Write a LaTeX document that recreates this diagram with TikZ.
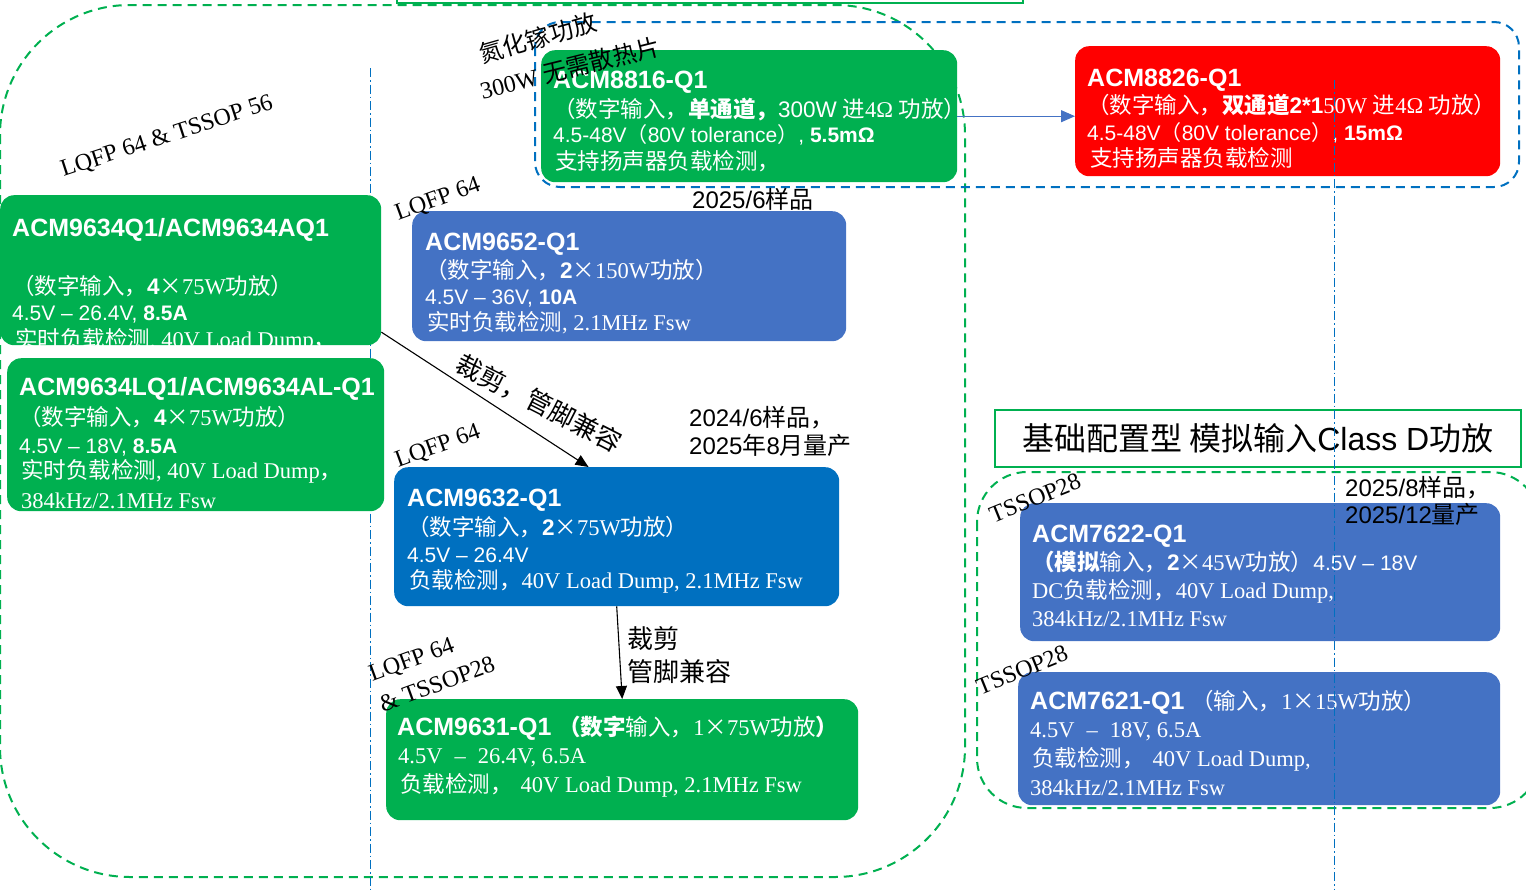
\documentclass[tikz,border=0pt]{standalone}
\usepackage{fontspec}
\setmainfont{Liberation Serif}
\setsansfont{Liberation Sans}
\newfontfamily\cjk{Noto Sans CJK SC}
\usetikzlibrary{arrows.meta}
\definecolor{gr}{HTML}{00B050}
\definecolor{bl}{HTML}{4472C4}
\definecolor{db}{HTML}{0070C0}
\definecolor{rd}{HTML}{FF0000}
\newcommand{\ZH}[1]{{\cjk #1}}
\newcommand{\SF}[1]{{\sffamily #1}}
\newcommand{\TIMES}{{\cjk ×}}
\tikzset{
  box/.style={rectangle, rounded corners=14pt, inner sep=0pt, draw=none, anchor=north west},
  ttl/.style={anchor=base west, inner sep=0pt, text=white, font=\sffamily\bfseries\fontsize{25}{30}\selectfont},
  zhl/.style={anchor=base west, inner sep=0pt, text=white, font=\rmfamily\fontsize{22.5}{27}\selectfont},
  sfl/.style={anchor=base west, inner sep=0pt, text=white, font=\sffamily\fontsize{21}{25}\selectfont},
  lbl/.style={anchor=base west, inner sep=0pt, text=black, font=\sffamily\fontsize{24}{28}\selectfont},
  pkg/.style={inner sep=0pt, text=black, font=\rmfamily\fontsize{24}{28}\selectfont},
  gdash/.style={draw=gr, line width=2pt, dash pattern=on 9pt off 6pt},
  bdash/.style={draw=db, line width=2pt, dash pattern=on 9pt off 6pt},
  dashdot/.style={draw=db, line width=1pt, dash pattern=on 9pt off 3pt on 1.5pt off 3pt},
  arr/.style={draw=black, line width=1.1pt, -{Triangle[length=13pt,width=11pt]}},
  barr/.style={draw=bl, line width=1.1pt, -{Triangle[length=14pt,width=12pt]}}
}
\begin{document}
\begin{tikzpicture}[x=1pt,y=-1pt]
\useasboundingbox (0,0) rectangle (1526,889);
% regions
\draw[gdash, rounded corners=130pt] (0,5) rectangle (965,877);
\draw[gdash, rounded corners=50pt] (977,472) rectangle (1540,808);
\draw[bdash, rounded corners=25pt] (535,22) rectangle (1519,187);
\draw[draw=gr, line width=2pt] (397,-10) rectangle (1023,3);
% left dash-dot line
\coordinate (v1t) at (370,68);
\coordinate (v1b) at (370,889);
\draw[dashdot] (v1t) -- (v1b);

% ACM8816
\node[box, fill=gr, minimum width=416pt, minimum height=132pt] (b8816) at (541,50) {};
\node[ttl] (t8816a) at (553,88) {ACM8816-Q1};
\node[zhl] (t8816b) at (553,117) {\ZH{（数字输入，\textbf{单通道，}}\SF{300W} \ZH{进}4Ω \ZH{功放）}};
\node[sfl] (t8816c) at (553,142) {4.5-48V\ZH{（}80V tolerance\ZH{）}, \textbf{5.5mΩ}};
\node[zhl] (t8816d) at (555,169) {\ZH{支持扬声器负载检测，}};

% ACM8826
\node[box, fill=rd, minimum width=425pt, minimum height=130pt] (b8826) at (1075,46) {};
\node[ttl] (t8826a) at (1087,86) {ACM8826-Q1};
\node[zhl] (t8826b) at (1087,113) {\ZH{（数字输入，\textbf{双通道}}\textbf{\SF{2*1}}50W \ZH{进}4Ω \ZH{功放）}};
\node[sfl] (t8826c) at (1087,140) {4.5-48V\ZH{（}80V tolerance\ZH{）}, \textbf{15mΩ}};
\node[zhl] (t8826d) at (1090,166) {\ZH{支持扬声器负载检测}};

% ACM9634Q1
\node[box, fill=gr, minimum width=381pt, minimum height=150pt] (b9634) at (0,195) {};
\node[ttl] (t9634a) at (12,236) {ACM9634Q1/ACM9634AQ1};
\node[zhl] (t9634b) at (12,294) {\ZH{（数字输入，}\textbf{\SF{4}}\TIMES 75W\ZH{功放）}};
\node[sfl] (t9634c) at (12,320) {4.5V – 26.4V, \textbf{8.5A}};
\node[zhl] (t9634d) at (15,347) {\ZH{实时负载检测}, 40V Load Dump\ZH{，}};

% ACM9634LQ1
\node[box, fill=gr, minimum width=377pt, minimum height=153pt] (b9634L) at (7,358) {};
\node[ttl] (t9634La) at (19,395) {ACM9634LQ1/ACM9634AL-Q1};
\node[zhl] (t9634Lb) at (19,425) {\ZH{（数字输入，}\textbf{\SF{4}}\TIMES 75W\ZH{功放）}};
\node[sfl] (t9634Lc) at (19,453) {4.5V – 18V, \textbf{8.5A}};
\node[zhl] (t9634Ld) at (21,478) {\ZH{实时负载检测}, 40V Load Dump\ZH{，}};
\node[zhl] (t9634Le) at (21,508) {384kHz/2.1MHz Fsw};

% ACM9652
\node[box, fill=bl, minimum width=434pt, minimum height=130pt] (b9652) at (412,211) {};
\node[ttl] (t9652a) at (425,250) {ACM9652-Q1};
\node[zhl] (t9652b) at (425,278) {\ZH{（数字输入，}\textbf{\SF{2}}\TIMES 150W\ZH{功放）}};
\node[sfl] (t9652c) at (425,304) {4.5V – 36V, \textbf{10A}};
\node[zhl] (t9652d) at (427,330) {\ZH{实时负载检测}, 2.1MHz Fsw};

% ACM9632
\node[box, fill=db, minimum width=445pt, minimum height=139pt] (b9632) at (394,467) {};
\node[ttl] (t9632a) at (407,506) {ACM9632-Q1};
\node[zhl] (t9632b) at (407,535) {\ZH{（数字输入，}\textbf{\SF{2}}\TIMES 75W\ZH{功放）}};
\node[sfl] (t9632c) at (407,562) {4.5V – 26.4V};
\node[zhl] (t9632d) at (409,588) {\ZH{负载检测，}40V Load Dump, 2.1MHz Fsw};

% ACM9631
\node[box, fill=gr, minimum width=472pt, minimum height=121pt] (b9631) at (386,699) {};
\node[ttl] (t9631a) at (397,735) {ACM9631-Q1 {\rmfamily\mdseries\fontsize{22.5}{27}\selectfont\ZH{\textbf{（数字}输入，}1\TIMES 75W\ZH{功放\textbf{）}}}};
\node[zhl] (t9631b) at (398,763) {4.5V\hspace{12pt}–\hspace{12pt}26.4V, 6.5A};
\node[zhl] (t9631c) at (400,792) {\ZH{负载检测，}\hspace{8pt}40V Load Dump, 2.1MHz Fsw};

% basic box
\node[rectangle, draw=gr, line width=1.5pt, fill=white, minimum width=526pt, minimum height=57pt, anchor=north west, inner sep=0pt, font=\sffamily\fontsize{32}{36}\selectfont] (basic) at (994,409) {\ZH{基础配置型 模拟输入}Class D\ZH{功放}};

% ACM7622
\node[box, fill=bl, minimum width=480pt, minimum height=138pt] (b7622) at (1020,503) {};
\node[ttl] (t7622a) at (1032,542) {ACM7622-Q1};
\node[zhl] (t7622b) at (1032,570) {\ZH{\textbf{（模拟}输入，}\textbf{\SF{2}}\TIMES 45W\ZH{功放）}\SF{\fontsize{21}{25}\selectfont 4.5V – 18V}};
\node[zhl] (t7622c) at (1032,598) {DC\ZH{负载检测，}40V Load Dump,};
\node[zhl] (t7622d) at (1032,626) {384kHz/2.1MHz Fsw};

% ACM7621
\node[box, fill=bl, minimum width=482pt, minimum height=133pt] (b7621) at (1018,672) {};
\node[ttl] (t7621a) at (1030,709) {ACM7621-Q1 {\rmfamily\mdseries\fontsize{22.5}{27}\selectfont\ZH{（输入，}1\TIMES 15W\ZH{功放）}}};
\node[zhl] (t7621b) at (1030,737) {4.5V\hspace{12pt}–\hspace{12pt}18V, 6.5A};
\node[zhl] (t7621c) at (1032,766) {\ZH{负载检测，}\hspace{8pt}40V Load Dump,};
\node[zhl] (t7621d) at (1030,795) {384kHz/2.1MHz Fsw};

% date labels
\node[lbl] (l1) at (692,208) {2025/6\ZH{样品}};
\node[lbl] (l2) at (689,426) {2024/6\ZH{样品，}};
\node[lbl] (l3) at (689,454) {2025\ZH{年}8\ZH{月量产}};
\node[lbl] (l4) at (1345,496) {2025/8\ZH{样品，}};
\node[lbl] (l5) at (1345,523) {2025/12\ZH{量产}};

% package labels
\node[pkg, rotate=18] (p1) at (167,137) {LQFP 64 \& TSSOP 56};
\node[pkg, rotate=20] (p2) at (438,200) {LQFP 64};
\node[pkg, rotate=20] (p3) at (438,447) {LQFP 64};
\node[pkg, rotate=20] (p4) at (412,661) {LQFP 64};
\node[pkg, rotate=20] (p5) at (437,684) {\& TSSOP28};
\node[pkg, rotate=22] (p6) at (1035,498) {TSSOP28};
\node[pkg, rotate=22] (p7) at (1022,670) {TSSOP28};
\node[pkg, rotate=16, font=\rmfamily\fontsize{24}{28}\selectfont] (g1) at (538,38) {\ZH{氮化镓功放}};
\node[pkg, rotate=14, font=\rmfamily\fontsize{24}{28}\selectfont] (g2) at (570,68) {300W \ZH{无需散热片}};

% right dash-dot line
\coordinate (v2t) at (1334,80);
\coordinate (v2b) at (1334,889);
\draw[dashdot] (v2t) -- (v2b);

% arrows
\draw[barr] (b8816.east) -- (b8826.west |- b8816.east);
\draw[arr] (b9634.-18) -- (b9632.112);
\node[rotate=-27, inner sep=0pt, font=\fontsize{26}{30}\selectfont] (a1lab) at (539,403) {\ZH{裁剪，管脚兼容}};
\draw[arr] (b9632.south) -- (b9631.north);
\node[anchor=base west, inner sep=0pt, font=\fontsize{26}{30}\selectfont] (a2lab1) at (627,648) {\ZH{裁剪}};
\node[anchor=base west, inner sep=0pt, font=\fontsize{26}{30}\selectfont] (a2lab2) at (627,681) {\ZH{管脚兼容}};
\end{tikzpicture}
\end{document}
